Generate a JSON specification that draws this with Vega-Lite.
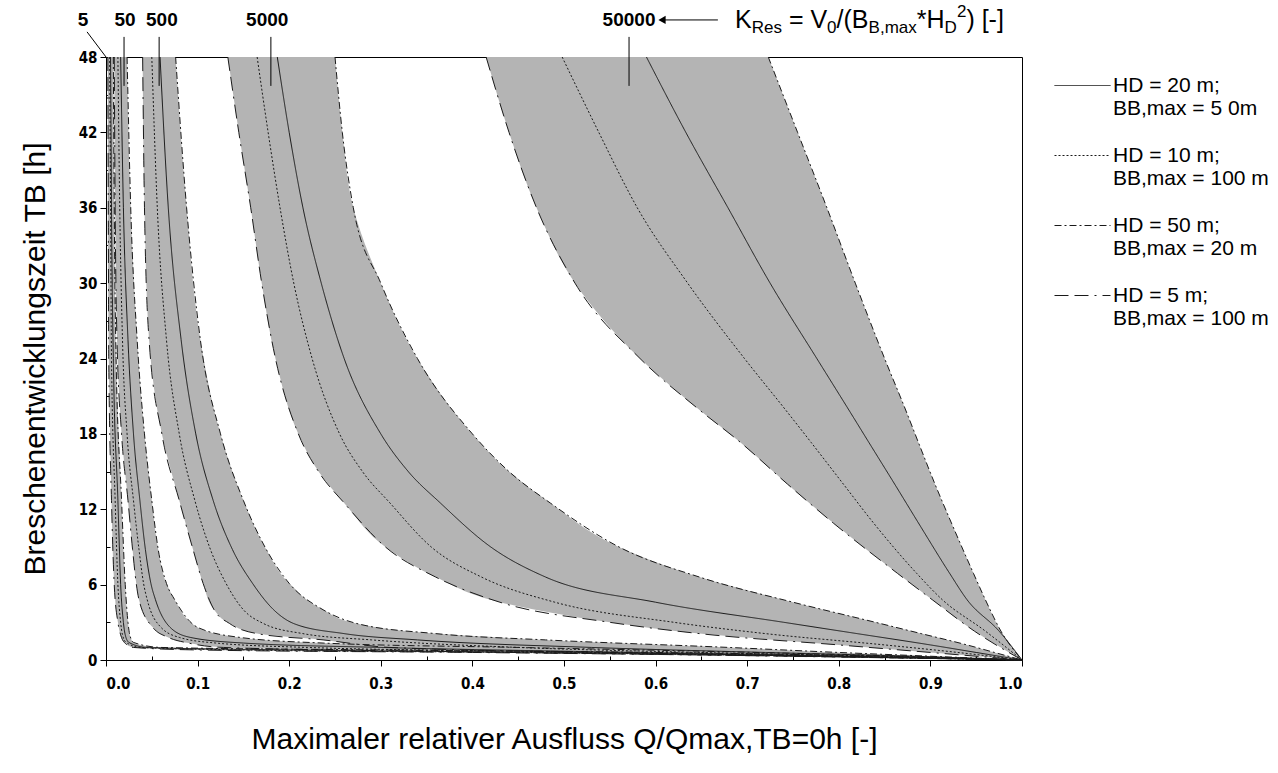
{
  "$schema": "https://vega.github.io/schema/vega-lite/v6.json",
  "width": 916,
  "height": 603,
  "autosize": {"type": "none"},
  "padding": {"left": 106, "top": 57, "right": 256, "bottom": 113},
  "background": "white",
  "config": {
    "view": {"stroke": "black", "strokeWidth": 1},
    "font": "Liberation Sans",
    "axis": {
      "labelFont": "DejaVu Sans Condensed, DejaVu Sans", "labelFontWeight": "bold", "labelFontSize": 15, "labelColor": "black",
      "tickColor": "black", "domainColor": "black", "grid": false,
      "titleFont": "Liberation Sans", "titleFontWeight": "normal", "titleFontSize": 30, "titleColor": "black"
    },
    "legend": {"padding": 0}
  },
  "datasets": {
    "bands": [
      {"k": "5", "y": 48, "xl": 0.002, "xr": 0.008},
      {"k": "5", "y": 36, "xl": 0.002, "xr": 0.009},
      {"k": "5", "y": 24, "xl": 0.003, "xr": 0.011},
      {"k": "5", "y": 12.7, "xl": 0.006, "xr": 0.017},
      {"k": "5", "y": 6, "xl": 0.009, "xr": 0.021},
      {"k": "5", "y": 3, "xl": 0.013, "xr": 0.024},
      {"k": "5", "y": 2, "xl": 0.016, "xr": 0.026},
      {"k": "5", "y": 1.4, "xl": 0.02, "xr": 0.03},
      {"k": "5", "y": 1.0, "xl": 0.03, "xr": 0.06},
      {"k": "5", "y": 0.8, "xl": 0.1, "xr": 0.3},
      {"k": "5", "y": 0.6, "xl": 0.4, "xr": 0.6},
      {"k": "5", "y": 0.3, "xl": 0.75, "xr": 0.85},
      {"k": "5", "y": 0, "xl": 1, "xr": 1},

      {"k": "50", "y": 48, "xl": 0.009, "xr": 0.023},
      {"k": "50", "y": 36, "xl": 0.010, "xr": 0.027},
      {"k": "50", "y": 25.5, "xl": 0.012, "xr": 0.034},
      {"k": "50", "y": 18, "xl": 0.017, "xr": 0.042},
      {"k": "50", "y": 12.7, "xl": 0.024, "xr": 0.05},
      {"k": "50", "y": 8.8, "xl": 0.029, "xr": 0.057},
      {"k": "50", "y": 6.1, "xl": 0.033, "xr": 0.066},
      {"k": "50", "y": 4.8, "xl": 0.036, "xr": 0.075},
      {"k": "50", "y": 2.6, "xl": 0.051, "xr": 0.1},
      {"k": "50", "y": 1.8, "xl": 0.068, "xr": 0.146},
      {"k": "50", "y": 1.35, "xl": 0.09, "xr": 0.237},
      {"k": "50", "y": 1.0, "xl": 0.128, "xr": 0.45},
      {"k": "50", "y": 0.7, "xl": 0.35, "xr": 0.65},
      {"k": "50", "y": 0.4, "xl": 0.65, "xr": 0.82},
      {"k": "50", "y": 0, "xl": 1, "xr": 1},

      {"k": "500", "y": 48, "xl": 0.04, "xr": 0.076},
      {"k": "500", "y": 36, "xl": 0.042, "xr": 0.088},
      {"k": "500", "y": 25.5, "xl": 0.047, "xr": 0.103},
      {"k": "500", "y": 18, "xl": 0.061, "xr": 0.125},
      {"k": "500", "y": 12.7, "xl": 0.08, "xr": 0.15},
      {"k": "500", "y": 8.8, "xl": 0.095, "xr": 0.175},
      {"k": "500", "y": 6.1, "xl": 0.106, "xr": 0.2},
      {"k": "500", "y": 4.0, "xl": 0.118, "xr": 0.237},
      {"k": "500", "y": 2.9, "xl": 0.135, "xr": 0.274},
      {"k": "500", "y": 2.1, "xl": 0.165, "xr": 0.36},
      {"k": "500", "y": 1.6, "xl": 0.237, "xr": 0.48},
      {"k": "500", "y": 1.0, "xl": 0.31, "xr": 0.68},
      {"k": "500", "y": 0.6, "xl": 0.55, "xr": 0.8},
      {"k": "500", "y": 0.3, "xl": 0.78, "xr": 0.9},
      {"k": "500", "y": 0, "xl": 1, "xr": 1},

      {"k": "5000", "y": 48, "xl": 0.133, "xr": 0.25},
      {"k": "5000", "y": 42, "xl": 0.145, "xr": 0.258},
      {"k": "5000", "y": 36, "xl": 0.158, "xr": 0.27},
      {"k": "5000", "y": 30, "xl": 0.17, "xr": 0.3},
      {"k": "5000", "y": 24, "xl": 0.185, "xr": 0.34},
      {"k": "5000", "y": 18, "xl": 0.21, "xr": 0.4},
      {"k": "5000", "y": 15, "xl": 0.232, "xr": 0.44},
      {"k": "5000", "y": 12.5, "xl": 0.26, "xr": 0.485},
      {"k": "5000", "y": 9, "xl": 0.305, "xr": 0.56},
      {"k": "5000", "y": 6.6, "xl": 0.36, "xr": 0.648},
      {"k": "5000", "y": 4.6, "xl": 0.43, "xr": 0.75},
      {"k": "5000", "y": 3, "xl": 0.55, "xr": 0.84},
      {"k": "5000", "y": 2.1, "xl": 0.648, "xr": 0.89},
      {"k": "5000", "y": 1.2, "xl": 0.8, "xr": 0.94},
      {"k": "5000", "y": 0.6, "xl": 0.9, "xr": 0.97},
      {"k": "5000", "y": 0, "xl": 1, "xr": 1},

      {"k": "50000", "y": 48, "xl": 0.415, "xr": 0.723},
      {"k": "50000", "y": 42, "xl": 0.44, "xr": 0.755},
      {"k": "50000", "y": 36, "xl": 0.47, "xr": 0.787},
      {"k": "50000", "y": 30, "xl": 0.512, "xr": 0.818},
      {"k": "50000", "y": 24, "xl": 0.583, "xr": 0.85},
      {"k": "50000", "y": 19.9, "xl": 0.648, "xr": 0.873},
      {"k": "50000", "y": 17.3, "xl": 0.693, "xr": 0.887},
      {"k": "50000", "y": 14, "xl": 0.744, "xr": 0.905},
      {"k": "50000", "y": 10.9, "xl": 0.794, "xr": 0.923},
      {"k": "50000", "y": 6.9, "xl": 0.864, "xr": 0.947},
      {"k": "50000", "y": 4.8, "xl": 0.902, "xr": 0.96},
      {"k": "50000", "y": 2.3, "xl": 0.948, "xr": 0.977},
      {"k": "50000", "y": 0, "xl": 1, "xr": 1}
    ],
    "lines": [
      {"k": "5", "s": "HD = 5 m; BB,max = 100 m", "y": 48, "x": 0.002},
      {"k": "5", "s": "HD = 5 m; BB,max = 100 m", "y": 36, "x": 0.0025},
      {"k": "5", "s": "HD = 5 m; BB,max = 100 m", "y": 24, "x": 0.003},
      {"k": "5", "s": "HD = 5 m; BB,max = 100 m", "y": 12.7, "x": 0.006},
      {"k": "5", "s": "HD = 5 m; BB,max = 100 m", "y": 6, "x": 0.009},
      {"k": "5", "s": "HD = 5 m; BB,max = 100 m", "y": 3, "x": 0.013},
      {"k": "5", "s": "HD = 5 m; BB,max = 100 m", "y": 2, "x": 0.016},
      {"k": "5", "s": "HD = 5 m; BB,max = 100 m", "y": 1.4, "x": 0.02},
      {"k": "5", "s": "HD = 5 m; BB,max = 100 m", "y": 1.0, "x": 0.03},
      {"k": "5", "s": "HD = 5 m; BB,max = 100 m", "y": 0.8, "x": 0.1},
      {"k": "5", "s": "HD = 5 m; BB,max = 100 m", "y": 0.6, "x": 0.4},
      {"k": "5", "s": "HD = 5 m; BB,max = 100 m", "y": 0.3, "x": 0.75},
      {"k": "5", "s": "HD = 5 m; BB,max = 100 m", "y": 0, "x": 1},
      {"k": "5", "s": "HD = 50 m; BB,max = 20 m", "y": 48, "x": 0.008},
      {"k": "5", "s": "HD = 50 m; BB,max = 20 m", "y": 36, "x": 0.009},
      {"k": "5", "s": "HD = 50 m; BB,max = 20 m", "y": 24, "x": 0.011},
      {"k": "5", "s": "HD = 50 m; BB,max = 20 m", "y": 12.7, "x": 0.017},
      {"k": "5", "s": "HD = 50 m; BB,max = 20 m", "y": 6, "x": 0.021},
      {"k": "5", "s": "HD = 50 m; BB,max = 20 m", "y": 3, "x": 0.024},
      {"k": "5", "s": "HD = 50 m; BB,max = 20 m", "y": 2, "x": 0.026},
      {"k": "5", "s": "HD = 50 m; BB,max = 20 m", "y": 1.4, "x": 0.03},
      {"k": "5", "s": "HD = 50 m; BB,max = 20 m", "y": 1.0, "x": 0.06},
      {"k": "5", "s": "HD = 50 m; BB,max = 20 m", "y": 0.8, "x": 0.3},
      {"k": "5", "s": "HD = 50 m; BB,max = 20 m", "y": 0.6, "x": 0.6},
      {"k": "5", "s": "HD = 50 m; BB,max = 20 m", "y": 0.3, "x": 0.85},
      {"k": "5", "s": "HD = 50 m; BB,max = 20 m", "y": 0, "x": 1},
      {"k": "5", "s": "HD = 20 m; BB,max = 5 0m", "y": 48, "x": 0.005},
      {"k": "5", "s": "HD = 20 m; BB,max = 5 0m", "y": 36, "x": 0.006},
      {"k": "5", "s": "HD = 20 m; BB,max = 5 0m", "y": 24, "x": 0.008},
      {"k": "5", "s": "HD = 20 m; BB,max = 5 0m", "y": 12.7, "x": 0.013},
      {"k": "5", "s": "HD = 20 m; BB,max = 5 0m", "y": 6, "x": 0.016},
      {"k": "5", "s": "HD = 20 m; BB,max = 5 0m", "y": 3, "x": 0.019},
      {"k": "5", "s": "HD = 20 m; BB,max = 5 0m", "y": 2, "x": 0.021},
      {"k": "5", "s": "HD = 20 m; BB,max = 5 0m", "y": 1.4, "x": 0.025},
      {"k": "5", "s": "HD = 20 m; BB,max = 5 0m", "y": 1.0, "x": 0.045},
      {"k": "5", "s": "HD = 20 m; BB,max = 5 0m", "y": 0.8, "x": 0.2},
      {"k": "5", "s": "HD = 20 m; BB,max = 5 0m", "y": 0.6, "x": 0.5},
      {"k": "5", "s": "HD = 20 m; BB,max = 5 0m", "y": 0.3, "x": 0.8},
      {"k": "5", "s": "HD = 20 m; BB,max = 5 0m", "y": 0, "x": 1},
      {"k": "5", "s": "HD = 10 m; BB,max = 100 m", "y": 48, "x": 0.004},
      {"k": "5", "s": "HD = 10 m; BB,max = 100 m", "y": 36, "x": 0.005},
      {"k": "5", "s": "HD = 10 m; BB,max = 100 m", "y": 24, "x": 0.006},
      {"k": "5", "s": "HD = 10 m; BB,max = 100 m", "y": 12.7, "x": 0.010},
      {"k": "5", "s": "HD = 10 m; BB,max = 100 m", "y": 6, "x": 0.013},
      {"k": "5", "s": "HD = 10 m; BB,max = 100 m", "y": 3, "x": 0.016},
      {"k": "5", "s": "HD = 10 m; BB,max = 100 m", "y": 2, "x": 0.018},
      {"k": "5", "s": "HD = 10 m; BB,max = 100 m", "y": 1.4, "x": 0.022},
      {"k": "5", "s": "HD = 10 m; BB,max = 100 m", "y": 1.0, "x": 0.038},
      {"k": "5", "s": "HD = 10 m; BB,max = 100 m", "y": 0.8, "x": 0.15},
      {"k": "5", "s": "HD = 10 m; BB,max = 100 m", "y": 0.6, "x": 0.45},
      {"k": "5", "s": "HD = 10 m; BB,max = 100 m", "y": 0.3, "x": 0.78},
      {"k": "5", "s": "HD = 10 m; BB,max = 100 m", "y": 0, "x": 1},

      {"k": "50", "s": "HD = 5 m; BB,max = 100 m", "y": 48, "x": 0.009},
      {"k": "50", "s": "HD = 5 m; BB,max = 100 m", "y": 36, "x": 0.010},
      {"k": "50", "s": "HD = 5 m; BB,max = 100 m", "y": 25.5, "x": 0.012},
      {"k": "50", "s": "HD = 5 m; BB,max = 100 m", "y": 18, "x": 0.017},
      {"k": "50", "s": "HD = 5 m; BB,max = 100 m", "y": 12.7, "x": 0.024},
      {"k": "50", "s": "HD = 5 m; BB,max = 100 m", "y": 8.8, "x": 0.029},
      {"k": "50", "s": "HD = 5 m; BB,max = 100 m", "y": 6.1, "x": 0.033},
      {"k": "50", "s": "HD = 5 m; BB,max = 100 m", "y": 4.8, "x": 0.036},
      {"k": "50", "s": "HD = 5 m; BB,max = 100 m", "y": 2.6, "x": 0.051},
      {"k": "50", "s": "HD = 5 m; BB,max = 100 m", "y": 1.8, "x": 0.068},
      {"k": "50", "s": "HD = 5 m; BB,max = 100 m", "y": 1.35, "x": 0.09},
      {"k": "50", "s": "HD = 5 m; BB,max = 100 m", "y": 1.0, "x": 0.128},
      {"k": "50", "s": "HD = 5 m; BB,max = 100 m", "y": 0.7, "x": 0.35},
      {"k": "50", "s": "HD = 5 m; BB,max = 100 m", "y": 0.4, "x": 0.65},
      {"k": "50", "s": "HD = 5 m; BB,max = 100 m", "y": 0, "x": 1},
      {"k": "50", "s": "HD = 50 m; BB,max = 20 m", "y": 48, "x": 0.023},
      {"k": "50", "s": "HD = 50 m; BB,max = 20 m", "y": 36, "x": 0.027},
      {"k": "50", "s": "HD = 50 m; BB,max = 20 m", "y": 25.5, "x": 0.034},
      {"k": "50", "s": "HD = 50 m; BB,max = 20 m", "y": 18, "x": 0.042},
      {"k": "50", "s": "HD = 50 m; BB,max = 20 m", "y": 12.7, "x": 0.05},
      {"k": "50", "s": "HD = 50 m; BB,max = 20 m", "y": 8.8, "x": 0.057},
      {"k": "50", "s": "HD = 50 m; BB,max = 20 m", "y": 6.1, "x": 0.066},
      {"k": "50", "s": "HD = 50 m; BB,max = 20 m", "y": 4.8, "x": 0.075},
      {"k": "50", "s": "HD = 50 m; BB,max = 20 m", "y": 2.6, "x": 0.1},
      {"k": "50", "s": "HD = 50 m; BB,max = 20 m", "y": 1.8, "x": 0.146},
      {"k": "50", "s": "HD = 50 m; BB,max = 20 m", "y": 1.35, "x": 0.237},
      {"k": "50", "s": "HD = 50 m; BB,max = 20 m", "y": 1.0, "x": 0.45},
      {"k": "50", "s": "HD = 50 m; BB,max = 20 m", "y": 0.7, "x": 0.65},
      {"k": "50", "s": "HD = 50 m; BB,max = 20 m", "y": 0.4, "x": 0.82},
      {"k": "50", "s": "HD = 50 m; BB,max = 20 m", "y": 0, "x": 1},
      {"k": "50", "s": "HD = 20 m; BB,max = 5 0m", "y": 48, "x": 0.016},
      {"k": "50", "s": "HD = 20 m; BB,max = 5 0m", "y": 36, "x": 0.019},
      {"k": "50", "s": "HD = 20 m; BB,max = 5 0m", "y": 25.5, "x": 0.024},
      {"k": "50", "s": "HD = 20 m; BB,max = 5 0m", "y": 18, "x": 0.03},
      {"k": "50", "s": "HD = 20 m; BB,max = 5 0m", "y": 12.7, "x": 0.037},
      {"k": "50", "s": "HD = 20 m; BB,max = 5 0m", "y": 8.8, "x": 0.043},
      {"k": "50", "s": "HD = 20 m; BB,max = 5 0m", "y": 6.1, "x": 0.049},
      {"k": "50", "s": "HD = 20 m; BB,max = 5 0m", "y": 4.8, "x": 0.054},
      {"k": "50", "s": "HD = 20 m; BB,max = 5 0m", "y": 2.6, "x": 0.07},
      {"k": "50", "s": "HD = 20 m; BB,max = 5 0m", "y": 1.8, "x": 0.092},
      {"k": "50", "s": "HD = 20 m; BB,max = 5 0m", "y": 1.35, "x": 0.15},
      {"k": "50", "s": "HD = 20 m; BB,max = 5 0m", "y": 1.0, "x": 0.3},
      {"k": "50", "s": "HD = 20 m; BB,max = 5 0m", "y": 0.7, "x": 0.5},
      {"k": "50", "s": "HD = 20 m; BB,max = 5 0m", "y": 0.4, "x": 0.75},
      {"k": "50", "s": "HD = 20 m; BB,max = 5 0m", "y": 0, "x": 1},
      {"k": "50", "s": "HD = 10 m; BB,max = 100 m", "y": 48, "x": 0.013},
      {"k": "50", "s": "HD = 10 m; BB,max = 100 m", "y": 36, "x": 0.015},
      {"k": "50", "s": "HD = 10 m; BB,max = 100 m", "y": 25.5, "x": 0.018},
      {"k": "50", "s": "HD = 10 m; BB,max = 100 m", "y": 18, "x": 0.023},
      {"k": "50", "s": "HD = 10 m; BB,max = 100 m", "y": 12.7, "x": 0.03},
      {"k": "50", "s": "HD = 10 m; BB,max = 100 m", "y": 8.8, "x": 0.036},
      {"k": "50", "s": "HD = 10 m; BB,max = 100 m", "y": 6.1, "x": 0.041},
      {"k": "50", "s": "HD = 10 m; BB,max = 100 m", "y": 4.8, "x": 0.045},
      {"k": "50", "s": "HD = 10 m; BB,max = 100 m", "y": 2.6, "x": 0.06},
      {"k": "50", "s": "HD = 10 m; BB,max = 100 m", "y": 1.8, "x": 0.08},
      {"k": "50", "s": "HD = 10 m; BB,max = 100 m", "y": 1.35, "x": 0.12},
      {"k": "50", "s": "HD = 10 m; BB,max = 100 m", "y": 1.0, "x": 0.22},
      {"k": "50", "s": "HD = 10 m; BB,max = 100 m", "y": 0.7, "x": 0.45},
      {"k": "50", "s": "HD = 10 m; BB,max = 100 m", "y": 0.4, "x": 0.7},
      {"k": "50", "s": "HD = 10 m; BB,max = 100 m", "y": 0, "x": 1},

      {"k": "500", "s": "HD = 5 m; BB,max = 100 m", "y": 48, "x": 0.04},
      {"k": "500", "s": "HD = 5 m; BB,max = 100 m", "y": 36, "x": 0.042},
      {"k": "500", "s": "HD = 5 m; BB,max = 100 m", "y": 25.5, "x": 0.047},
      {"k": "500", "s": "HD = 5 m; BB,max = 100 m", "y": 18, "x": 0.061},
      {"k": "500", "s": "HD = 5 m; BB,max = 100 m", "y": 12.7, "x": 0.08},
      {"k": "500", "s": "HD = 5 m; BB,max = 100 m", "y": 8.8, "x": 0.095},
      {"k": "500", "s": "HD = 5 m; BB,max = 100 m", "y": 6.1, "x": 0.106},
      {"k": "500", "s": "HD = 5 m; BB,max = 100 m", "y": 4.0, "x": 0.118},
      {"k": "500", "s": "HD = 5 m; BB,max = 100 m", "y": 2.9, "x": 0.135},
      {"k": "500", "s": "HD = 5 m; BB,max = 100 m", "y": 2.1, "x": 0.165},
      {"k": "500", "s": "HD = 5 m; BB,max = 100 m", "y": 1.6, "x": 0.237},
      {"k": "500", "s": "HD = 5 m; BB,max = 100 m", "y": 1.0, "x": 0.31},
      {"k": "500", "s": "HD = 5 m; BB,max = 100 m", "y": 0.6, "x": 0.55},
      {"k": "500", "s": "HD = 5 m; BB,max = 100 m", "y": 0.3, "x": 0.78},
      {"k": "500", "s": "HD = 5 m; BB,max = 100 m", "y": 0, "x": 1},
      {"k": "500", "s": "HD = 50 m; BB,max = 20 m", "y": 48, "x": 0.076},
      {"k": "500", "s": "HD = 50 m; BB,max = 20 m", "y": 36, "x": 0.088},
      {"k": "500", "s": "HD = 50 m; BB,max = 20 m", "y": 25.5, "x": 0.103},
      {"k": "500", "s": "HD = 50 m; BB,max = 20 m", "y": 18, "x": 0.125},
      {"k": "500", "s": "HD = 50 m; BB,max = 20 m", "y": 12.7, "x": 0.15},
      {"k": "500", "s": "HD = 50 m; BB,max = 20 m", "y": 8.8, "x": 0.175},
      {"k": "500", "s": "HD = 50 m; BB,max = 20 m", "y": 6.1, "x": 0.2},
      {"k": "500", "s": "HD = 50 m; BB,max = 20 m", "y": 4.0, "x": 0.237},
      {"k": "500", "s": "HD = 50 m; BB,max = 20 m", "y": 2.9, "x": 0.274},
      {"k": "500", "s": "HD = 50 m; BB,max = 20 m", "y": 2.1, "x": 0.36},
      {"k": "500", "s": "HD = 50 m; BB,max = 20 m", "y": 1.6, "x": 0.48},
      {"k": "500", "s": "HD = 50 m; BB,max = 20 m", "y": 1.0, "x": 0.68},
      {"k": "500", "s": "HD = 50 m; BB,max = 20 m", "y": 0.6, "x": 0.8},
      {"k": "500", "s": "HD = 50 m; BB,max = 20 m", "y": 0.3, "x": 0.9},
      {"k": "500", "s": "HD = 50 m; BB,max = 20 m", "y": 0, "x": 1},
      {"k": "500", "s": "HD = 20 m; BB,max = 5 0m", "y": 48, "x": 0.059},
      {"k": "500", "s": "HD = 20 m; BB,max = 5 0m", "y": 36, "x": 0.068},
      {"k": "500", "s": "HD = 20 m; BB,max = 5 0m", "y": 25.5, "x": 0.082},
      {"k": "500", "s": "HD = 20 m; BB,max = 5 0m", "y": 18, "x": 0.098},
      {"k": "500", "s": "HD = 20 m; BB,max = 5 0m", "y": 12.7, "x": 0.117},
      {"k": "500", "s": "HD = 20 m; BB,max = 5 0m", "y": 8.8, "x": 0.138},
      {"k": "500", "s": "HD = 20 m; BB,max = 5 0m", "y": 6.1, "x": 0.16},
      {"k": "500", "s": "HD = 20 m; BB,max = 5 0m", "y": 4.0, "x": 0.183},
      {"k": "500", "s": "HD = 20 m; BB,max = 5 0m", "y": 2.9, "x": 0.205},
      {"k": "500", "s": "HD = 20 m; BB,max = 5 0m", "y": 2.1, "x": 0.26},
      {"k": "500", "s": "HD = 20 m; BB,max = 5 0m", "y": 1.6, "x": 0.34},
      {"k": "500", "s": "HD = 20 m; BB,max = 5 0m", "y": 1.0, "x": 0.53},
      {"k": "500", "s": "HD = 20 m; BB,max = 5 0m", "y": 0.6, "x": 0.72},
      {"k": "500", "s": "HD = 20 m; BB,max = 5 0m", "y": 0.3, "x": 0.88},
      {"k": "500", "s": "HD = 20 m; BB,max = 5 0m", "y": 0, "x": 1},
      {"k": "500", "s": "HD = 10 m; BB,max = 100 m", "y": 48, "x": 0.05},
      {"k": "500", "s": "HD = 10 m; BB,max = 100 m", "y": 36, "x": 0.056},
      {"k": "500", "s": "HD = 10 m; BB,max = 100 m", "y": 25.5, "x": 0.066},
      {"k": "500", "s": "HD = 10 m; BB,max = 100 m", "y": 18, "x": 0.08},
      {"k": "500", "s": "HD = 10 m; BB,max = 100 m", "y": 12.7, "x": 0.097},
      {"k": "500", "s": "HD = 10 m; BB,max = 100 m", "y": 8.8, "x": 0.114},
      {"k": "500", "s": "HD = 10 m; BB,max = 100 m", "y": 6.1, "x": 0.131},
      {"k": "500", "s": "HD = 10 m; BB,max = 100 m", "y": 4.0, "x": 0.15},
      {"k": "500", "s": "HD = 10 m; BB,max = 100 m", "y": 2.9, "x": 0.172},
      {"k": "500", "s": "HD = 10 m; BB,max = 100 m", "y": 2.1, "x": 0.215},
      {"k": "500", "s": "HD = 10 m; BB,max = 100 m", "y": 1.6, "x": 0.29},
      {"k": "500", "s": "HD = 10 m; BB,max = 100 m", "y": 1.0, "x": 0.45},
      {"k": "500", "s": "HD = 10 m; BB,max = 100 m", "y": 0.6, "x": 0.65},
      {"k": "500", "s": "HD = 10 m; BB,max = 100 m", "y": 0.3, "x": 0.85},
      {"k": "500", "s": "HD = 10 m; BB,max = 100 m", "y": 0, "x": 1},

      {"k": "5000", "s": "HD = 5 m; BB,max = 100 m", "y": 48, "x": 0.133},
      {"k": "5000", "s": "HD = 5 m; BB,max = 100 m", "y": 42, "x": 0.145},
      {"k": "5000", "s": "HD = 5 m; BB,max = 100 m", "y": 36, "x": 0.158},
      {"k": "5000", "s": "HD = 5 m; BB,max = 100 m", "y": 30, "x": 0.17},
      {"k": "5000", "s": "HD = 5 m; BB,max = 100 m", "y": 24, "x": 0.185},
      {"k": "5000", "s": "HD = 5 m; BB,max = 100 m", "y": 18, "x": 0.21},
      {"k": "5000", "s": "HD = 5 m; BB,max = 100 m", "y": 15, "x": 0.232},
      {"k": "5000", "s": "HD = 5 m; BB,max = 100 m", "y": 12.5, "x": 0.26},
      {"k": "5000", "s": "HD = 5 m; BB,max = 100 m", "y": 9, "x": 0.305},
      {"k": "5000", "s": "HD = 5 m; BB,max = 100 m", "y": 6.6, "x": 0.36},
      {"k": "5000", "s": "HD = 5 m; BB,max = 100 m", "y": 4.6, "x": 0.43},
      {"k": "5000", "s": "HD = 5 m; BB,max = 100 m", "y": 3, "x": 0.55},
      {"k": "5000", "s": "HD = 5 m; BB,max = 100 m", "y": 2.1, "x": 0.648},
      {"k": "5000", "s": "HD = 5 m; BB,max = 100 m", "y": 1.2, "x": 0.8},
      {"k": "5000", "s": "HD = 5 m; BB,max = 100 m", "y": 0.6, "x": 0.9},
      {"k": "5000", "s": "HD = 5 m; BB,max = 100 m", "y": 0, "x": 1},
      {"k": "5000", "s": "HD = 50 m; BB,max = 20 m", "y": 48, "x": 0.25},
      {"k": "5000", "s": "HD = 50 m; BB,max = 20 m", "y": 42, "x": 0.258},
      {"k": "5000", "s": "HD = 50 m; BB,max = 20 m", "y": 36, "x": 0.27},
      {"k": "5000", "s": "HD = 50 m; BB,max = 20 m", "y": 30, "x": 0.3},
      {"k": "5000", "s": "HD = 50 m; BB,max = 20 m", "y": 24, "x": 0.34},
      {"k": "5000", "s": "HD = 50 m; BB,max = 20 m", "y": 18, "x": 0.4},
      {"k": "5000", "s": "HD = 50 m; BB,max = 20 m", "y": 15, "x": 0.44},
      {"k": "5000", "s": "HD = 50 m; BB,max = 20 m", "y": 12.5, "x": 0.485},
      {"k": "5000", "s": "HD = 50 m; BB,max = 20 m", "y": 9, "x": 0.56},
      {"k": "5000", "s": "HD = 50 m; BB,max = 20 m", "y": 6.6, "x": 0.648},
      {"k": "5000", "s": "HD = 50 m; BB,max = 20 m", "y": 4.6, "x": 0.75},
      {"k": "5000", "s": "HD = 50 m; BB,max = 20 m", "y": 3, "x": 0.84},
      {"k": "5000", "s": "HD = 50 m; BB,max = 20 m", "y": 2.1, "x": 0.89},
      {"k": "5000", "s": "HD = 50 m; BB,max = 20 m", "y": 1.2, "x": 0.94},
      {"k": "5000", "s": "HD = 50 m; BB,max = 20 m", "y": 0.6, "x": 0.97},
      {"k": "5000", "s": "HD = 50 m; BB,max = 20 m", "y": 0, "x": 1},
      {"k": "5000", "s": "HD = 20 m; BB,max = 5 0m", "y": 48, "x": 0.187},
      {"k": "5000", "s": "HD = 20 m; BB,max = 5 0m", "y": 42, "x": 0.2},
      {"k": "5000", "s": "HD = 20 m; BB,max = 5 0m", "y": 36, "x": 0.215},
      {"k": "5000", "s": "HD = 20 m; BB,max = 5 0m", "y": 30, "x": 0.235},
      {"k": "5000", "s": "HD = 20 m; BB,max = 5 0m", "y": 24, "x": 0.26},
      {"k": "5000", "s": "HD = 20 m; BB,max = 5 0m", "y": 18, "x": 0.3},
      {"k": "5000", "s": "HD = 20 m; BB,max = 5 0m", "y": 15, "x": 0.33},
      {"k": "5000", "s": "HD = 20 m; BB,max = 5 0m", "y": 12.5, "x": 0.365},
      {"k": "5000", "s": "HD = 20 m; BB,max = 5 0m", "y": 9, "x": 0.42},
      {"k": "5000", "s": "HD = 20 m; BB,max = 5 0m", "y": 6.6, "x": 0.48},
      {"k": "5000", "s": "HD = 20 m; BB,max = 5 0m", "y": 4.6, "x": 0.6},
      {"k": "5000", "s": "HD = 20 m; BB,max = 5 0m", "y": 3, "x": 0.74},
      {"k": "5000", "s": "HD = 20 m; BB,max = 5 0m", "y": 2.1, "x": 0.82},
      {"k": "5000", "s": "HD = 20 m; BB,max = 5 0m", "y": 1.2, "x": 0.9},
      {"k": "5000", "s": "HD = 20 m; BB,max = 5 0m", "y": 0.6, "x": 0.95},
      {"k": "5000", "s": "HD = 20 m; BB,max = 5 0m", "y": 0, "x": 1},
      {"k": "5000", "s": "HD = 10 m; BB,max = 100 m", "y": 48, "x": 0.165},
      {"k": "5000", "s": "HD = 10 m; BB,max = 100 m", "y": 42, "x": 0.177},
      {"k": "5000", "s": "HD = 10 m; BB,max = 100 m", "y": 36, "x": 0.19},
      {"k": "5000", "s": "HD = 10 m; BB,max = 100 m", "y": 30, "x": 0.205},
      {"k": "5000", "s": "HD = 10 m; BB,max = 100 m", "y": 24, "x": 0.225},
      {"k": "5000", "s": "HD = 10 m; BB,max = 100 m", "y": 18, "x": 0.255},
      {"k": "5000", "s": "HD = 10 m; BB,max = 100 m", "y": 15, "x": 0.28},
      {"k": "5000", "s": "HD = 10 m; BB,max = 100 m", "y": 12.5, "x": 0.31},
      {"k": "5000", "s": "HD = 10 m; BB,max = 100 m", "y": 9, "x": 0.355},
      {"k": "5000", "s": "HD = 10 m; BB,max = 100 m", "y": 6.6, "x": 0.41},
      {"k": "5000", "s": "HD = 10 m; BB,max = 100 m", "y": 4.6, "x": 0.49},
      {"k": "5000", "s": "HD = 10 m; BB,max = 100 m", "y": 3, "x": 0.62},
      {"k": "5000", "s": "HD = 10 m; BB,max = 100 m", "y": 2.1, "x": 0.72},
      {"k": "5000", "s": "HD = 10 m; BB,max = 100 m", "y": 1.2, "x": 0.85},
      {"k": "5000", "s": "HD = 10 m; BB,max = 100 m", "y": 0.6, "x": 0.93},
      {"k": "5000", "s": "HD = 10 m; BB,max = 100 m", "y": 0, "x": 1},

      {"k": "50000", "s": "HD = 5 m; BB,max = 100 m", "y": 48, "x": 0.415},
      {"k": "50000", "s": "HD = 5 m; BB,max = 100 m", "y": 42, "x": 0.44},
      {"k": "50000", "s": "HD = 5 m; BB,max = 100 m", "y": 36, "x": 0.47},
      {"k": "50000", "s": "HD = 5 m; BB,max = 100 m", "y": 30, "x": 0.512},
      {"k": "50000", "s": "HD = 5 m; BB,max = 100 m", "y": 24, "x": 0.583},
      {"k": "50000", "s": "HD = 5 m; BB,max = 100 m", "y": 19.9, "x": 0.648},
      {"k": "50000", "s": "HD = 5 m; BB,max = 100 m", "y": 17.3, "x": 0.693},
      {"k": "50000", "s": "HD = 5 m; BB,max = 100 m", "y": 14, "x": 0.744},
      {"k": "50000", "s": "HD = 5 m; BB,max = 100 m", "y": 10.9, "x": 0.794},
      {"k": "50000", "s": "HD = 5 m; BB,max = 100 m", "y": 6.9, "x": 0.864},
      {"k": "50000", "s": "HD = 5 m; BB,max = 100 m", "y": 4.8, "x": 0.902},
      {"k": "50000", "s": "HD = 5 m; BB,max = 100 m", "y": 2.3, "x": 0.948},
      {"k": "50000", "s": "HD = 5 m; BB,max = 100 m", "y": 0, "x": 1},
      {"k": "50000", "s": "HD = 50 m; BB,max = 20 m", "y": 48, "x": 0.723},
      {"k": "50000", "s": "HD = 50 m; BB,max = 20 m", "y": 42, "x": 0.755},
      {"k": "50000", "s": "HD = 50 m; BB,max = 20 m", "y": 36, "x": 0.787},
      {"k": "50000", "s": "HD = 50 m; BB,max = 20 m", "y": 30, "x": 0.818},
      {"k": "50000", "s": "HD = 50 m; BB,max = 20 m", "y": 24, "x": 0.85},
      {"k": "50000", "s": "HD = 50 m; BB,max = 20 m", "y": 19.9, "x": 0.873},
      {"k": "50000", "s": "HD = 50 m; BB,max = 20 m", "y": 17.3, "x": 0.887},
      {"k": "50000", "s": "HD = 50 m; BB,max = 20 m", "y": 14, "x": 0.905},
      {"k": "50000", "s": "HD = 50 m; BB,max = 20 m", "y": 10.9, "x": 0.923},
      {"k": "50000", "s": "HD = 50 m; BB,max = 20 m", "y": 6.9, "x": 0.947},
      {"k": "50000", "s": "HD = 50 m; BB,max = 20 m", "y": 4.8, "x": 0.96},
      {"k": "50000", "s": "HD = 50 m; BB,max = 20 m", "y": 2.3, "x": 0.977},
      {"k": "50000", "s": "HD = 50 m; BB,max = 20 m", "y": 0, "x": 1},
      {"k": "50000", "s": "HD = 20 m; BB,max = 5 0m", "y": 48, "x": 0.59},
      {"k": "50000", "s": "HD = 20 m; BB,max = 5 0m", "y": 42, "x": 0.633},
      {"k": "50000", "s": "HD = 20 m; BB,max = 5 0m", "y": 36, "x": 0.679},
      {"k": "50000", "s": "HD = 20 m; BB,max = 5 0m", "y": 30, "x": 0.725},
      {"k": "50000", "s": "HD = 20 m; BB,max = 5 0m", "y": 24, "x": 0.776},
      {"k": "50000", "s": "HD = 20 m; BB,max = 5 0m", "y": 19.9, "x": 0.811},
      {"k": "50000", "s": "HD = 20 m; BB,max = 5 0m", "y": 17.3, "x": 0.833},
      {"k": "50000", "s": "HD = 20 m; BB,max = 5 0m", "y": 14, "x": 0.861},
      {"k": "50000", "s": "HD = 20 m; BB,max = 5 0m", "y": 10.9, "x": 0.887},
      {"k": "50000", "s": "HD = 20 m; BB,max = 5 0m", "y": 6.9, "x": 0.921},
      {"k": "50000", "s": "HD = 20 m; BB,max = 5 0m", "y": 4.8, "x": 0.94},
      {"k": "50000", "s": "HD = 20 m; BB,max = 5 0m", "y": 2.3, "x": 0.975},
      {"k": "50000", "s": "HD = 20 m; BB,max = 5 0m", "y": 0, "x": 1},
      {"k": "50000", "s": "HD = 10 m; BB,max = 100 m", "y": 48, "x": 0.498},
      {"k": "50000", "s": "HD = 10 m; BB,max = 100 m", "y": 42, "x": 0.538},
      {"k": "50000", "s": "HD = 10 m; BB,max = 100 m", "y": 36, "x": 0.58},
      {"k": "50000", "s": "HD = 10 m; BB,max = 100 m", "y": 30, "x": 0.635},
      {"k": "50000", "s": "HD = 10 m; BB,max = 100 m", "y": 24, "x": 0.697},
      {"k": "50000", "s": "HD = 10 m; BB,max = 100 m", "y": 19.9, "x": 0.742},
      {"k": "50000", "s": "HD = 10 m; BB,max = 100 m", "y": 17.3, "x": 0.77},
      {"k": "50000", "s": "HD = 10 m; BB,max = 100 m", "y": 14, "x": 0.805},
      {"k": "50000", "s": "HD = 10 m; BB,max = 100 m", "y": 10.9, "x": 0.838},
      {"k": "50000", "s": "HD = 10 m; BB,max = 100 m", "y": 6.9, "x": 0.885},
      {"k": "50000", "s": "HD = 10 m; BB,max = 100 m", "y": 4.8, "x": 0.913},
      {"k": "50000", "s": "HD = 10 m; BB,max = 100 m", "y": 2.3, "x": 0.96},
      {"k": "50000", "s": "HD = 10 m; BB,max = 100 m", "y": 0, "x": 1}
    ],
    "klabels": [
      {"t": "5", "x": -0.025, "y": 50.95},
      {"t": "50", "x": 0.0207, "y": 50.95},
      {"t": "500", "x": 0.061, "y": 50.95},
      {"t": "5000", "x": 0.176, "y": 50.95},
      {"t": "50000", "x": 0.571, "y": 50.95}
    ],
    "leaders": [
      {"x": -0.0207, "y": 50.0, "x2": 0, "y2": 48},
      {"x": 0.0197, "y": 49.6, "x2": 0.0197, "y2": 45.7},
      {"x": 0.058, "y": 49.6, "x2": 0.058, "y2": 45.7},
      {"x": 0.18, "y": 49.6, "x2": 0.18, "y2": 45.7},
      {"x": 0.571, "y": 49.6, "x2": 0.571, "y2": 45.7},
      {"x": 0.607, "y": 50.95, "x2": 0.668, "y2": 50.95}
    ],
    "arrow": [{"x": 0.607, "y": 50.95}],
    "formula_main": [
      {"t": "K", "x": 0.6867, "y": 50.95},
      {"t": "= V", "x": 0.7455, "y": 50.95},
      {"t": "/(B", "x": 0.7976, "y": 50.95},
      {"t": "*H", "x": 0.8851, "y": 50.95},
      {"t": ") [-]", "x": 0.9393, "y": 50.95}
    ],
    "formula_sub": [
      {"t": "Res", "x": 0.7049, "y": 50.3},
      {"t": "0", "x": 0.787, "y": 50.3},
      {"t": "B,max", "x": 0.8325, "y": 50.3},
      {"t": "D", "x": 0.9155, "y": 50.3},
      {"t": "2", "x": 0.929, "y": 51.6}
    ]
  },
  "layer": [
    {
      "data": {"name": "bands"},
      "mark": {"type": "area", "orient": "horizontal", "interpolate": "monotone", "fill": "#b4b4b4", "opacity": 1},
      "encoding": {
        "y": {"field": "y", "type": "quantitative", "scale": {"domain": [0, 48], "nice": false},
          "axis": {"orient": "left", "values": [0, 6, 12, 18, 24, 30, 36, 42, 48], "tickSize": 6, "labelPadding": 3,
            "title": "Breschenentwicklungszeit TB [h]", "titlePadding": 28}},
        "x": {"field": "xl", "type": "quantitative", "scale": {"domain": [0, 1], "nice": false},
          "axis": {"orient": "bottom", "values": [0, 0.1, 0.2, 0.3, 0.4, 0.5, 0.6, 0.7, 0.8, 0.9, 1], "format": ".1f", "tickSize": 6, "labelPadding": 10,
            "title": "Maximaler relativer Ausfluss Q/Qmax,TB=0h [-]", "titlePadding": 33}},
        "x2": {"field": "xr"},
        "detail": {"field": "k"}
      }
    },
    {
      "data": {"name": "lines"},
      "mark": {"type": "line", "interpolate": "monotone", "strokeWidth": 1, "color": "#1a1a1a"},
      "encoding": {
        "x": {"field": "x", "type": "quantitative", "scale": {"domain": [0, 1], "nice": false},
          "axis": {"orient": "bottom", "values": [0.05, 0.15, 0.25, 0.35, 0.45, 0.55, 0.65, 0.75, 0.85, 0.95], "labels": false, "domain": false, "tickSize": -4, "title": null}},
        "y": {"field": "y", "type": "quantitative", "scale": {"domain": [0, 48], "nice": false},
          "axis": {"orient": "left", "values": [3, 9, 15, 21, 27, 33, 39, 45], "labels": false, "domain": false, "tickSize": -4, "title": null}},
        "detail": {"field": "k"},
        "strokeDash": {"field": "s", "type": "nominal",
          "scale": {"domain": ["HD = 20 m; BB,max = 5 0m", "HD = 10 m; BB,max = 100 m", "HD = 50 m; BB,max = 20 m", "HD = 5 m; BB,max = 100 m"],
            "range": [[1, 0], [2, 2], [7, 3, 2, 3], [14, 6, 14, 6, 2, 6]]},
          "legend": {"orient": "right", "offset": 30, "title": null, "symbolType": "stroke", "symbolSize": 3136, "symbolStrokeWidth": 1,
            "symbolStrokeColor": "#1a1a1a", "labelFont": "Liberation Sans", "labelFontSize": 21, "labelColor": "black", "labelLimit": 400,
            "labelOffset": 2, "labelBaseline": "middle", "rowPadding": 8,
            "labelExpr": "[split(datum.label, '; ')[0] + ';', split(datum.label, '; ')[1]]"}}
      }
    },
    {
      "data": {"name": "klabels"},
      "mark": {"type": "text", "font": "Liberation Sans", "fontWeight": "bold", "fontSize": 19, "baseline": "middle", "align": "center", "color": "black"},
      "encoding": {
        "x": {"field": "x", "type": "quantitative", "scale": {"domain": [0, 1], "nice": false}, "axis": null},
        "y": {"field": "y", "type": "quantitative", "scale": {"domain": [0, 48], "nice": false}, "axis": null},
        "text": {"field": "t"}
      }
    },
    {
      "data": {"name": "leaders"},
      "mark": {"type": "rule", "color": "black", "strokeWidth": 1},
      "encoding": {
        "x": {"field": "x", "type": "quantitative", "scale": {"domain": [0, 1], "nice": false}, "axis": null},
        "y": {"field": "y", "type": "quantitative", "scale": {"domain": [0, 48], "nice": false}, "axis": null},
        "x2": {"field": "x2"},
        "y2": {"field": "y2"}
      }
    },
    {
      "data": {"name": "arrow"},
      "mark": {"type": "point", "shape": "triangle-left", "filled": true, "color": "black", "size": 70, "opacity": 1},
      "encoding": {
        "x": {"field": "x", "type": "quantitative", "scale": {"domain": [0, 1], "nice": false}, "axis": null},
        "y": {"field": "y", "type": "quantitative", "scale": {"domain": [0, 48], "nice": false}, "axis": null}
      }
    },
    {
      "data": {"name": "formula_main"},
      "mark": {"type": "text", "font": "Liberation Sans", "fontSize": 25, "baseline": "middle", "align": "left", "color": "black"},
      "encoding": {
        "x": {"field": "x", "type": "quantitative", "scale": {"domain": [0, 1], "nice": false}, "axis": null},
        "y": {"field": "y", "type": "quantitative", "scale": {"domain": [0, 48], "nice": false}, "axis": null},
        "text": {"field": "t"}
      }
    },
    {
      "data": {"name": "formula_sub"},
      "mark": {"type": "text", "font": "Liberation Sans", "fontSize": 17, "baseline": "middle", "align": "left", "color": "black"},
      "encoding": {
        "x": {"field": "x", "type": "quantitative", "scale": {"domain": [0, 1], "nice": false}, "axis": null},
        "y": {"field": "y", "type": "quantitative", "scale": {"domain": [0, 48], "nice": false}, "axis": null},
        "text": {"field": "t"}
      }
    }
  ],
  "resolve": {"axis": {"x": "independent", "y": "independent"}}
}
